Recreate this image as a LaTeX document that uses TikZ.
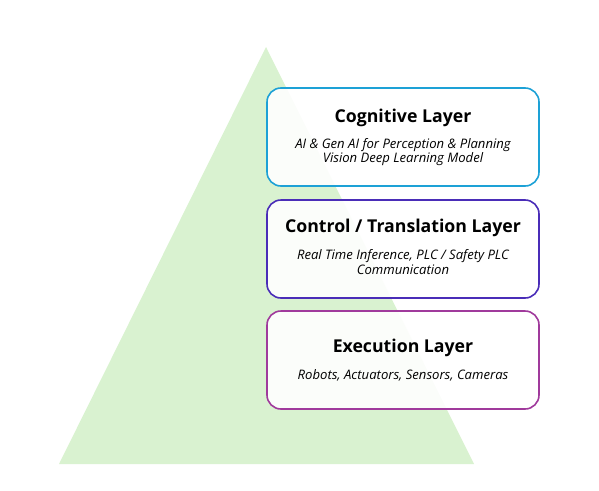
\documentclass[tikz,border=0pt]{standalone}
\usepackage{fontspec}
\setmainfont{Open Sans}
\definecolor{tri}{HTML}{D9F2D0}
\definecolor{cogc}{HTML}{1DA1D6}
\definecolor{ctlc}{HTML}{4A2DB8}
\definecolor{exec}{HTML}{A03A9C}
\begin{document}
\begin{tikzpicture}[x=1pt,y=-1pt,
  layerbox/.style={draw=#1,line width=1.6pt,rounded corners=14pt,fill=white,fill opacity=0.9,minimum width=272pt,minimum height=98pt,inner sep=0pt},
  ttl/.style={font=\fontsize{17.7}{20}\selectfont\bfseries,inner sep=0pt},
  sub/.style={font=\fontsize{13.1}{14.5}\selectfont\itshape,align=center,inner sep=0pt}]
\useasboundingbox (0,0) rectangle (599,490);
\fill[tri] (266,47) -- (474,464) -- (59,464) -- cycle;
\node[layerbox=cogc] (b1) at (403,137) {};
\node[layerbox=ctlc] (b2) at (403,249) {};
\node[layerbox=exec] (b3) at (403,360) {};
\node[ttl] (t1) at (403,118) {Cognitive Layer};
\node[sub] (s1) at (403,152) {AI \& Gen AI for Perception \& Planning\\Vision Deep Learning Model};
\node[ttl] (t2) at (403,228) {Control / Translation Layer};
\node[sub] (s2) at (403,262) {Real Time Inference, PLC / Safety PLC\\Communication};
\node[ttl] (t3) at (403,348) {Execution Layer};
\node[sub] (s3) at (403,375) {Robots, Actuators, Sensors, Cameras};
\end{tikzpicture}
\end{document}
